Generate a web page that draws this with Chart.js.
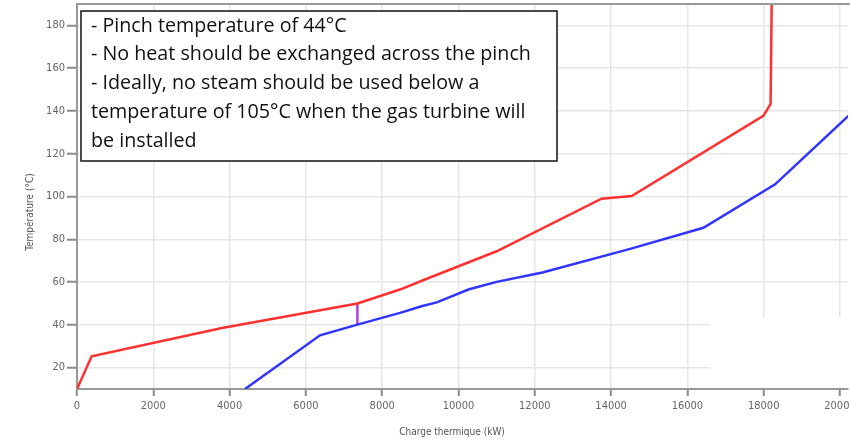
<!DOCTYPE html>
<html>
<head>
<meta charset="utf-8">
<script src="https://cdn.jsdelivr.net/npm/chart.js@4"></script>
<style>
  html, body { margin: 0; padding: 0; background: #fff; }
  #wrap { width: 850px; height: 441px; }
</style>
</head>
<body>
<div id="wrap"><canvas id="pinchChart" width="850" height="441"></canvas></div>
<script>
  // Hot composite curve (red)
  const hotLoad = [0, 384, 3800, 7350, 8467, 9120, 11000, 13750, 14540, 17990, 18180, 18210];
  const hotTemp = [10, 25.3, 38.5, 50, 56.5, 61.2, 74.4, 99, 100.2, 137.7, 143.2, 190];

  // Cold composite curve (blue)
  const coldLoad = [4404, 6370, 7350, 8467, 9030, 9430, 10260, 11000, 12200, 14500, 16420, 18300, 20220];
  const coldTemp = [10, 35.1, 40.1, 45.6, 48.7, 50.5, 56.5, 60.1, 64.5, 75.5, 85.4, 105.7, 137.7];

  // Pinch marker
  const pinchLoad = [7350, 7350];
  const pinchTemp = [40.1, 50];

  const xTicks = [0, 2000, 4000, 6000, 8000, 10000, 12000, 14000, 16000, 18000, 20000];
  const yTicks = [20, 40, 60, 80, 100, 120, 140, 160, 180];

  const noteLines = [
    '- Pinch temperature of 44°C',
    '- No heat should be exchanged across the pinch',
    '- Ideally, no steam should be used below a',
    'temperature of 105°C when the gas turbine will',
    'be installed'
  ];

  function toPoints(xs, ys) {
    return xs.map((x, i) => ({ x, y: ys[i] }));
  }

  const tickFont = { family: "'DejaVu Sans Condensed', 'DejaVu Sans'", size: 11 };

  const framePlugin = {
    id: 'frame',
    beforeDatasetsDraw(chart) {
      // white patch over the lower right corner of the grid, as in the source image
      const ctx = chart.ctx;
      const a = chart.chartArea;
      ctx.save();
      ctx.fillStyle = '#ffffff';
      ctx.fillRect(710, 317, 850 - 710, a.bottom - 2 - 317);
      ctx.restore();
    },
    afterDraw(chart) {
      const ctx = chart.ctx;
      const a = chart.chartArea;
      ctx.save();
      // top frame line
      ctx.strokeStyle = '#999999';
      ctx.lineWidth = 2;
      ctx.beginPath();
      ctx.moveTo(a.left - 1, a.top);
      ctx.lineTo(850, a.top);
      ctx.stroke();

      // axis titles
      ctx.fillStyle = '#555555';
      ctx.font = "10px 'DejaVu Sans Condensed', 'DejaVu Sans'";
      ctx.textAlign = 'center';
      ctx.textBaseline = 'middle';
      ctx.fillText('Charge thermique (kW)', 452, 432);
      ctx.translate(30, 212);
      ctx.rotate(-Math.PI / 2);
      ctx.fillText('Température (°C)', 0, 0);
      ctx.restore();

      // annotation box
      ctx.save();
      const bx = 81, by = 11, bw = 476, bh = 150;
      ctx.fillStyle = '#ffffff';
      ctx.fillRect(bx, by, bw, bh);
      ctx.strokeStyle = '#111111';
      ctx.lineWidth = 1.5;
      ctx.strokeRect(bx, by, bw, bh);
      let size = 18;
      const fam = "px 'Open Sans', Lato, sans-serif";
      ctx.font = size + fam;
      const w = ctx.measureText(noteLines[1]).width;
      size = size * 440 / w;
      ctx.font = size.toFixed(2) + fam;
      ctx.fillStyle = '#111111';
      ctx.textAlign = 'left';
      ctx.textBaseline = 'middle';
      noteLines.forEach((line, i) => {
        ctx.fillText(line, 91, 26 + i * 28.75);
      });
      ctx.restore();
    }
  };

  new Chart(document.getElementById('pinchChart'), {
    type: 'scatter',
    data: {
      datasets: [
        {
          label: 'Hot',
          data: toPoints(hotLoad, hotTemp),
          showLine: true,
          borderColor: '#ff3030',
          borderWidth: 2.5,
          pointRadius: 0,
          tension: 0
        },
        {
          label: 'Cold',
          data: toPoints(coldLoad, coldTemp),
          showLine: true,
          borderColor: '#3333ff',
          borderWidth: 2.5,
          pointRadius: 0,
          tension: 0
        },
        {
          label: 'Pinch',
          data: toPoints(pinchLoad, pinchTemp),
          showLine: true,
          borderColor: '#b040e0',
          borderWidth: 2.5,
          pointRadius: 0
        }
      ]
    },
    options: {
      responsive: false,
      animation: false,
      layout: { padding: { top: 4, right: 2, left: 0, bottom: 0 } },
      plugins: {
        legend: { display: false },
        tooltip: { enabled: false }
      },
      scales: {
        x: {
          type: 'linear',
          min: 0,
          max: 20210,
          afterBuildTicks: s => { s.ticks = xTicks.map(v => ({ value: v })); },
          afterFit: s => { s.height = 52; s.paddingRight = 0; s.paddingLeft = 0; },
          grid: { color: '#e6e6e6', lineWidth: 1.5, tickColor: '#8a8a8a', tickLength: 7, tickWidth: 2 },
          border: { color: '#999999', width: 2 },
          ticks: { color: '#666666', font: tickFont, padding: 4, maxRotation: 0, autoSkip: false, callback: v => String(v) }
        },
        y: {
          type: 'linear',
          min: 10,
          max: 190,
          afterBuildTicks: s => { s.ticks = yTicks.map(v => ({ value: v })); },
          afterFit: s => { s.width = 77; s.paddingTop = 0; s.paddingBottom = 0; },
          grid: { color: '#e6e6e6', lineWidth: 1.5, tickColor: '#8a8a8a', tickLength: 10, tickWidth: 2 },
          border: { color: '#999999', width: 2 },
          ticks: { color: '#666666', font: tickFont, padding: 2, autoSkip: false, callback: v => String(v) }
        }
      }
    },
    plugins: [framePlugin]
  });
</script>
</body>
</html>
